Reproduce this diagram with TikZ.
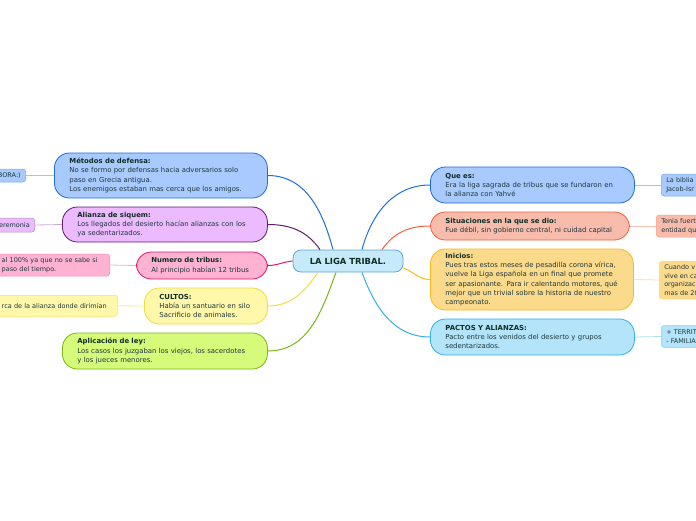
\documentclass[tikz,border=0pt]{standalone}
\usepackage{fontspec}
\setmainfont{DejaVu Sans}
\definecolor{txt}{RGB}{30,55,60}
\definecolor{ttl}{RGB}{15,45,35}
\definecolor{bluef}{RGB}{168,202,254}\definecolor{blued}{RGB}{30,110,220}
\definecolor{purf}{RGB}{236,186,255}\definecolor{purd}{RGB}{100,25,110}
\definecolor{pinkf}{RGB}{255,178,210}\definecolor{pinkd}{RGB}{232,20,110}
\definecolor{yelf}{RGB}{255,247,170}\definecolor{yeld}{RGB}{238,222,60}
\definecolor{grnf}{RGB}{214,250,122}\definecolor{grnd}{RGB}{122,182,22}
\definecolor{salf}{RGB}{248,188,172}\definecolor{sald}{RGB}{245,95,60}
\definecolor{orgf}{RGB}{252,218,140}\definecolor{orgd}{RGB}{248,186,30}
\definecolor{cyaf}{RGB}{180,228,250}\definecolor{cyad}{RGB}{50,176,230}
\definecolor{cenf}{RGB}{198,234,250}\definecolor{cend}{RGB}{90,165,215}
\newcommand{\ttlf}[1]{{\bfseries\color{ttl}#1}}
\begin{document}
\begin{tikzpicture}[x=1pt,y=-1pt]
\tikzstyle{topic}=[draw, line width=0.8pt, rounded corners=15pt, inner xsep=15pt, inner ysep=2pt, align=left, text=txt, font=\fontsize{6.9}{9.3}\selectfont]
\tikzstyle{leaf}=[draw, line width=0.5pt, rounded corners=3pt, inner xsep=5pt, inner ysep=2pt, text=txt, font=\fontsize{6.5}{8.6}\selectfont]
\tikzstyle{link}=[line width=1pt]
\tikzstyle{twig}=[line width=0.8pt]
\useasboundingbox (0,0) rectangle (696,520);
\clip (0,0) rectangle (696,520);

% centre
\node[draw=cend, fill=cenf, line width=0.8pt, rounded corners=8pt, minimum width=110pt, minimum height=22pt, text=ttl, font=\fontsize{8.4}{9}\selectfont\bfseries] (liga) at (348,261) {LA LIGA TRIBAL.};

% left topics
\node[topic, fill=bluef, draw=blued, anchor=west, text width=183pt, minimum height=45pt] (metodos) at (54,175.5)
  {\ttlf{Métodos de defensa:}\\No se formo por defensas hacia adversarios solo\\paso en Grecia antigua.\\Los enemigos estaban mas cerca que los amigos.};
\node[topic, fill=purf, draw=purd, anchor=west, text width=175pt, minimum height=35pt] (alianza) at (62,224.5)
  {\ttlf{Alianza de siquem:}\\Los llegados del desierto hacían alianzas con los\\ya sedentarizados.};
\node[topic, fill=pinkf, draw=pinkd, anchor=west, text width=101pt, minimum height=27pt] (numero) at (136,265.5)
  {\ttlf{Numero de tribus:}\\Al principio habían 12 tribus};
\node[topic, fill=yelf, draw=yeld, anchor=west, text width=93pt, minimum height=36pt] (cultos) at (144,306)
  {\ttlf{CULTOS:}\\Había un santuario en silo\\Sacrificio de animales.};
\node[topic, fill=grnf, draw=grnd, anchor=west, text width=175pt, minimum height=36pt] (ley) at (62,351)
  {\ttlf{Aplicación de ley:}\\Los casos los juzgaban los viejos, los sacerdotes\\y los jueces menores.};

% right topics
\node[topic, fill=bluef, draw=blued, anchor=west, text width=174pt, minimum height=36pt] (quees) at (430,185)
  {\ttlf{Que es:}\\Era la liga sagrada de tribus que se fundaron en\\la alianza con Yahvé};
\node[topic, fill=salf, draw=sald, anchor=west, text width=169pt, minimum height=28pt] (situ) at (430,226)
  {\ttlf{Situaciones en la que se dio:}\\Fue débil, sin gobierno central, ni cuidad capital};
\node[topic, fill=orgf, draw=orgd, anchor=west, text width=173pt, minimum height=61pt] (inicios) at (430,279.5)
  {\ttlf{Inicios:}\\Pues tras estos meses de pesadilla corona vírica,\\vuelve la Liga española en un final que promete\\ser apasionante. Para ir calentando motores, qué\\mejor que un trivial sobre la historia de nuestro\\campeonato.};
\node[topic, fill=cyaf, draw=cyad, anchor=west, text width=174pt, minimum height=36pt] (pactos) at (430,337)
  {\ttlf{PACTOS Y ALIANZAS:}\\Pacto entre los venidos del desierto y grupos\\sedentarizados.};

% leaves
\node[leaf, fill=bluef, draw=blued!60, anchor=east, text width=80pt, align=right, minimum height=13pt] (l1) at (26,175.5) {BORA:)};
\node[leaf, fill=purf, draw=purd!50, anchor=east, text width=80pt, align=right, minimum height=14pt] (l2) at (35,225) {ceremonia};
\node[leaf, fill=pinkf, draw=pinkd!50, anchor=east, text width=103pt, align=left, minimum height=22pt] (l3) at (110,265) {al 100\% ya que no se sabe si\\paso del tiempo.};
\node[leaf, fill=yelf, draw=yeld!80, anchor=north east, text width=111pt, align=left, minimum height=21pt] (l4) at (118,295) {rca de la alianza donde dirimían};
\node[leaf, fill=bluef, draw=blued!60, anchor=west, text width=60pt, align=left, minimum height=22pt] (r1) at (661,185) {La biblia\\Jacob-Isr};
\node[leaf, fill=salf, draw=sald!60, anchor=west, text width=60pt, align=left, minimum height=22pt] (r2) at (656,226) {Tenia fuert\\entidad qu};
\node[leaf, fill=orgf, draw=orgd!60, anchor=west, text width=60pt, align=left, minimum height=38pt] (r3) at (659,280) {Cuando v\\vive en ca\\organizaci\\mas de 20};
\node[leaf, fill=cyaf, draw=cyad!60, anchor=west, text width=60pt, align=left, minimum height=22pt] (r4) at (661,336.5) {+ TERRIT\\- FAMILIA};

% connectors
\draw[link, blued] ([xshift=-15pt]liga.north) to[out=105, in=0] (metodos.east);
\draw[link, purd] ([xshift=-28pt]liga.north) to[out=125, in=0] (alianza.east);
\draw[link, pinkd] (liga.west) to[out=185, in=0] (numero.east);
\draw[link, yeld] ([xshift=-30pt]liga.south) to[out=235, in=0] (cultos.east);
\draw[link, grnd] ([xshift=-12pt]liga.south) to[out=250, in=0] (ley.east);
\draw[link, blued] ([xshift=14pt]liga.north) to[out=75, in=180] (quees.west);
\draw[link, sald] ([xshift=34pt]liga.north) to[out=55, in=180] (situ.west);
\draw[link, orgd] ([yshift=-7pt]liga.east) to[out=-20, in=180] (inicios.west);
\draw[link, cyad] ([xshift=14pt]liga.south) to[out=-70, in=180] (pactos.west);

\draw[twig, blued!40] (metodos.west) -- (l1.east);
\draw[twig, purd!35] (alianza.west) -- (l2.east);
\draw[twig, pinkd!35] (numero.west) -- (l3.east);
\draw[twig, yeld!60] (cultos.west) -- (l4.east);
\draw[twig, blued!40] (quees.east) -- (r1.west);
\draw[twig, sald!40] (situ.east) -- (r2.west);
\draw[twig, orgd!40] (inicios.east) -- (r3.west);
\draw[twig, cyad!40] (pactos.east) -- (r4.west);
\end{tikzpicture}
\end{document}
